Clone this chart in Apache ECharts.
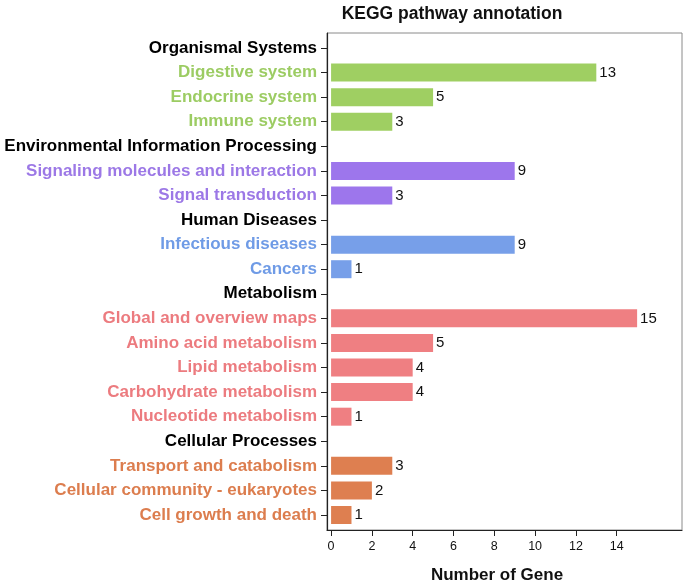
<!DOCTYPE html>
<html>
<head>
<meta charset="utf-8">
<script src="https://cdn.jsdelivr.net/npm/echarts@6/dist/echarts.min.js"></script>
<style>html,body{margin:0;padding:0;background:#fff}#c{width:685px;height:581px}</style>
</head>
<body>
<div id="c"></div>
<script>
var categories = [
  "Organismal Systems","Digestive system","Endocrine system","Immune system",
  "Environmental Information Processing","Signaling molecules and interaction","Signal transduction",
  "Human Diseases","Infectious diseases","Cancers",
  "Metabolism","Global and overview maps","Amino acid metabolism","Lipid metabolism","Carbohydrate metabolism","Nucleotide metabolism",
  "Cellular Processes","Transport and catabolism","Cellular community - eukaryotes","Cell growth and death"
];
var values = [null,13,5,3, null,9,3, null,9,1, null,15,5,4,4,1, null,3,2,1];
var groups = [-1,0,0,0, -1,1,1, -1,2,2, -1,3,3,3,3,3, -1,4,4,4];
var xTicks = [0,2,4,6,8,10,12,14];
var groupColors = ["#9fcf62","#9d76ec","#779fe9","#ef7f82","#de7f50"];
var labelColors = ["#9ccc63","#9c78e6","#6f9be6","#ec7b7f","#dc7d4e"];

var rich = {h:{color:"#000",fontWeight:"bold",fontSize:17,fontFamily:"Liberation Sans"}};
labelColors.forEach(function(c,i){rich["g"+i]={color:c,fontWeight:"bold",fontSize:17,fontFamily:"Liberation Sans"};});

var chart = echarts.init(document.getElementById('c'));
chart.setOption({
  animation:false,
  title:[
    {text:"KEGG pathway annotation",left:447,top:0,textAlign:"center",textStyle:{fontSize:17.5,fontWeight:"bold",color:"#111",fontFamily:"Liberation Sans"}},
    {text:"Number of Gene",left:492,top:562,textAlign:"center",textStyle:{fontSize:17,fontWeight:"bold",color:"#111",fontFamily:"Liberation Sans"}}
  ],
  grid:[
    {left:327,right:3,top:33,bottom:51,show:true,borderColor:"#8a8a8a",borderWidth:1,backgroundColor:"transparent"},
    {left:327,right:3,top:35.7,bottom:53.7}
  ],
  xAxis:[
    {gridIndex:0,type:"value",min:-0.2,max:17.2,
     axisLine:{show:true,onZero:false,lineStyle:{color:"#222",width:1.2}},
     axisTick:{show:true,length:6,customValues:xTicks,lineStyle:{color:"#222"}},
     axisLabel:{show:true,customValues:xTicks,color:"#111",fontSize:12.5,margin:10,fontFamily:"Liberation Sans"},
     splitLine:{show:false}},
    {gridIndex:1,type:"value",min:-0.2,max:17.2,show:false,splitLine:{show:false}}
  ],
  yAxis:[
    {gridIndex:0,type:"value",min:0,max:1,
     axisLine:{show:true,onZero:false,lineStyle:{color:"#222",width:1.2}},
     axisTick:{show:false},axisLabel:{show:false},splitLine:{show:false}},
    {gridIndex:1,type:"category",inverse:true,data:categories,
     axisLine:{show:false,onZero:false},
     axisTick:{show:true,length:6,alignWithLabel:true,lineStyle:{color:"#222"}},
     axisLabel:{margin:10,rich:rich,formatter:function(v,i){var g=groups[i];return "{"+(g<0?"h":"g"+g)+"|"+v+"}";}}}
  ],
  series:[{
    type:"bar",xAxisIndex:1,yAxisIndex:1,
    data:values.map(function(v,i){return groups[i]<0?null:{value:v,itemStyle:{color:groupColors[groups[i]]}};}),
    barWidth:18,
    label:{show:true,position:"right",distance:3,color:"#111",fontSize:15,fontFamily:"Liberation Sans"}
  }]
});
</script>
</body>
</html>
